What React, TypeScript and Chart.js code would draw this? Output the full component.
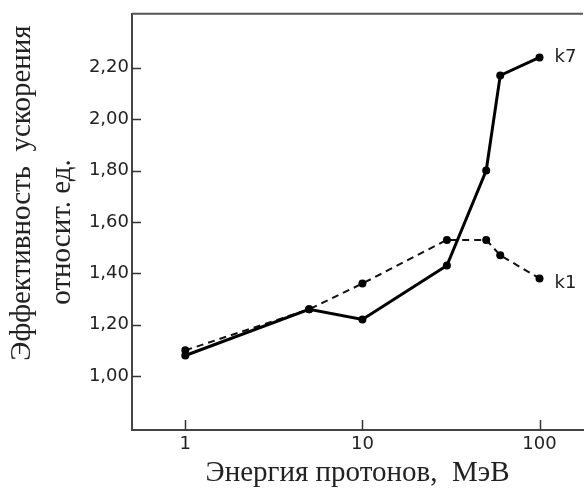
import React, { useEffect, useRef } from "react";
import { Chart, registerables } from "chart.js";

Chart.register(...registerables);

// ---- data ----
const ENERGY_MEV = [1, 5, 10, 30, 50, 60, 100];
const K7_VALUES = [1.08, 1.26, 1.22, 1.43, 1.8, 2.17, 2.24];
const K1_VALUES = [1.1, 1.26, 1.36, 1.53, 1.53, 1.47, 1.38];
const SERIES_NAMES = ["k7", "k1"];
const X_TICKS = [1, 10, 100];
const Y_TICKS = [1.0, 1.2, 1.4, 1.6, 1.8, 2.0, 2.2];
const X_TITLE = "Энергия протонов,  МэВ";
const Y_TITLE_LINES = ["Эффективность  ускорения", "относит. ед."];

const SANS = "'DejaVu Sans', sans-serif";
const SERIF = "'Liberation Serif', 'Times New Roman', serif";

const decorPlugin = {
  id: "decor",
  afterDraw(chart: any) {
    const ctx = chart.ctx;
    const { left, right, top, bottom } = chart.chartArea;
    ctx.save();
    // top frame line
    ctx.strokeStyle = "#555";
    ctx.lineWidth = 2;
    ctx.beginPath();
    ctx.moveTo(left, top);
    ctx.lineTo(right, top);
    ctx.stroke();
    // inward tick marks
    ctx.strokeStyle = "#333";
    ctx.lineWidth = 1.5;
    const xs = chart.scales.x;
    const ys = chart.scales.y;
    xs.ticks.forEach((t: any) => {
      const px = Math.round(xs.getPixelForValue(t.value)) + 0.5;
      ctx.beginPath();
      ctx.moveTo(px, bottom);
      ctx.lineTo(px, bottom - 10);
      ctx.stroke();
    });
    ys.ticks.forEach((t: any) => {
      const py = Math.round(ys.getPixelForValue(t.value)) + 0.5;
      ctx.beginPath();
      ctx.moveTo(left, py);
      ctx.lineTo(left + 9, py);
      ctx.stroke();
    });
    // series end labels
    ctx.fillStyle = "#222";
    ctx.font = `18px ${SANS}`;
    ctx.textAlign = "left";
    ctx.textBaseline = "middle";
    const dy = [0, 5];
    chart.data.datasets.forEach((ds: any, i: number) => {
      const meta = chart.getDatasetMeta(i);
      const last = meta.data[meta.data.length - 1];
      if (!last) return;
      ctx.fillText(ds.label, last.x + 15, last.y + dy[i]);
    });
    // y axis title (two rotated lines)
    ctx.fillStyle = "#222";
    ctx.font = `29px ${SERIF}`;
    ctx.textAlign = "center";
    ctx.textBaseline = "middle";
    const pos = [
      [22, 193],
      [62, 232],
    ];
    Y_TITLE_LINES.forEach((line, i) => {
      ctx.save();
      ctx.translate(pos[i][0], pos[i][1]);
      ctx.rotate(-Math.PI / 2);
      ctx.fillText(line, 0, 0);
      ctx.restore();
    });
    ctx.restore();
  },
};

export default function App() {
  const canvasRef = useRef<HTMLCanvasElement | null>(null);

  useEffect(() => {
    const canvas = canvasRef.current;
    if (!canvas) return;
    const chart = new Chart(canvas, {
      type: "line",
      data: {
        datasets: [
          {
            label: SERIES_NAMES[0],
            data: ENERGY_MEV.map((x, i) => ({ x, y: K7_VALUES[i] })),
            borderColor: "#000",
            backgroundColor: "#000",
            borderWidth: 3,
            pointRadius: 4,
            pointStyle: "circle",
            pointBorderWidth: 0,
            tension: 0,
          },
          {
            label: SERIES_NAMES[1],
            data: ENERGY_MEV.map((x, i) => ({ x, y: K1_VALUES[i] })),
            borderColor: "#111",
            backgroundColor: "#000",
            borderWidth: 2,
            borderDash: [7, 5],
            pointRadius: 4,
            pointStyle: "circle",
            pointBorderWidth: 0,
            tension: 0,
          },
        ],
      },
      options: {
        responsive: false,
        animation: false,
        layout: { padding: { top: 10, right: 0, left: 0, bottom: 0 } },
        plugins: {
          legend: { display: false },
          tooltip: { enabled: false },
        },
        scales: {
          x: {
            type: "logarithmic",
            min: 0.5,
            max: 176,
            afterBuildTicks: (s: any) => {
              s.ticks = X_TICKS.map((v) => ({ value: v }));
            },
            afterFit: (s: any) => {
              s.height = 63;
            },
            grid: { display: false, drawTicks: false },
            border: { display: true, color: "#444", width: 2 },
            ticks: {
              color: "#222",
              font: { family: SANS, size: 18 },
              padding: 4,
              autoSkip: false,
              maxRotation: 0,
              callback: (v: any) => String(v),
            },
            title: {
              display: true,
              text: X_TITLE,
              color: "#222",
              font: { family: SERIF, size: 29, weight: "normal" },
              padding: { top: 0, bottom: 2 },
            },
          },
          y: {
            type: "linear",
            min: 0.79,
            max: 2.41,
            afterBuildTicks: (s: any) => {
              s.ticks = Y_TICKS.map((v) => ({ value: v }));
            },
            afterFit: (s: any) => {
              s.width = 132;
            },
            grid: { display: false, drawTicks: false },
            border: { display: true, color: "#444", width: 2 },
            ticks: {
              color: "#222",
              font: { family: SANS, size: 18 },
              padding: 3,
              callback: (v: any) => Number(v).toFixed(2).replace(".", ","),
            },
          },
        },
      },
      plugins: [decorPlugin],
    });
    return () => chart.destroy();
  }, []);

  return (
    <div
      style={{
        position: "fixed",
        left: 0,
        top: 0,
        width: 587,
        height: 493,
        background: "#fff",
      }}
    >
      <canvas ref={canvasRef} width={587} height={493} style={{ display: "block" }} />
    </div>
  );
}
